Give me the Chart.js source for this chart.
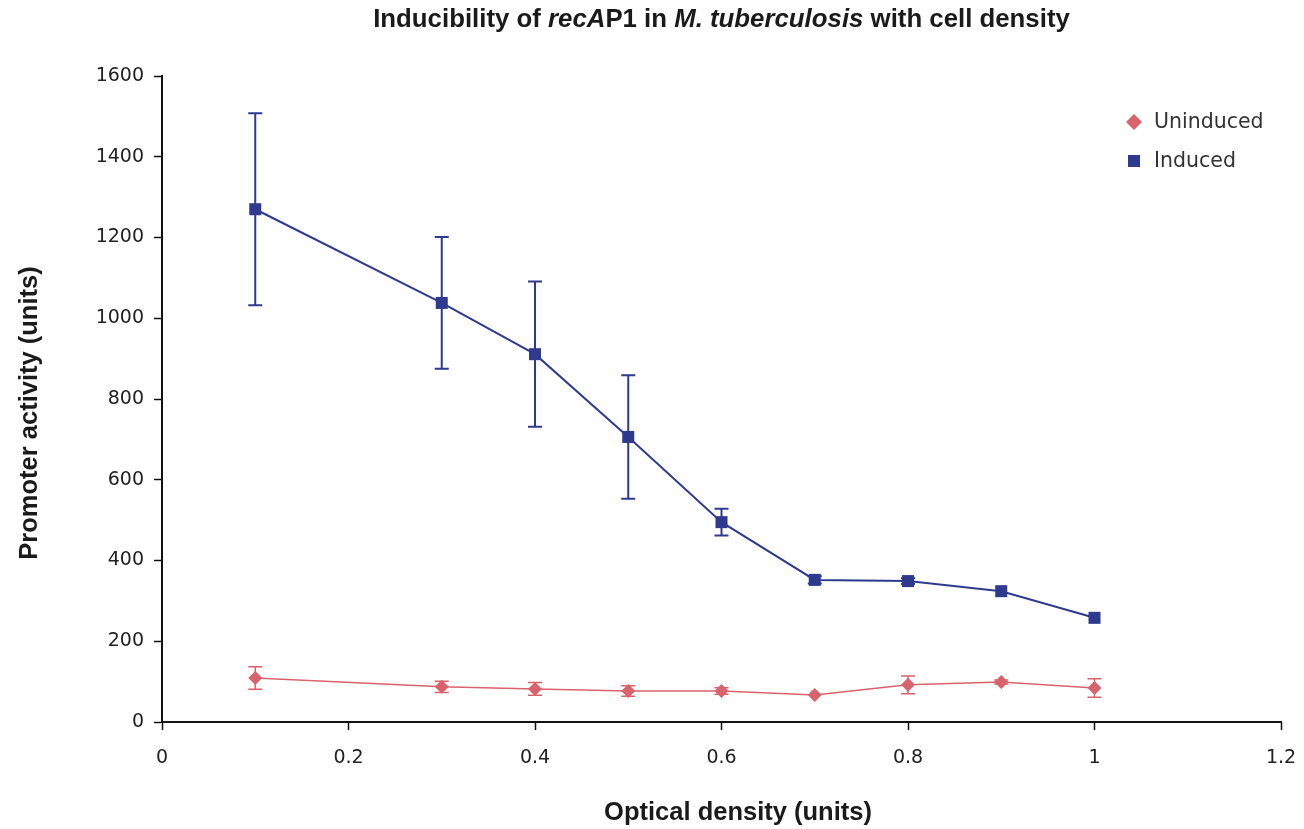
<!DOCTYPE html>
<html>
<head>
<meta charset="utf-8">
<script src="https://cdn.jsdelivr.net/npm/chart.js@4.4.0/dist/chart.umd.min.js"></script>
<style>
  html, body { margin: 0; padding: 0; background: #fff; }
</style>
</head>
<body>
<canvas id="c" width="1304" height="829"></canvas>
<script>
// data
const opticalDensity = [0.1, 0.3, 0.4, 0.5, 0.6, 0.7, 0.8, 0.9, 1.0];
const uninduced    = [109, 87, 82, 77, 77, 67, 92, 99, 84];
const uninducedErr = [28, 14, 16, 13, 8, 0, 22, 5, 23];
const induced      = [1270, 1038, 911, 706, 495, 352, 349, 324, 258];
const inducedErr   = [238, 163, 180, 153, 33, 9, 7, 0, 0];
const xTickLabels = ['0', '0.2', '0.4', '0.6', '0.8', '1', '1.2'];
const yTickLabels = ['0', '200', '400', '600', '800', '1000', '1200', '1400', '1600'];
const xAxisTitle = 'Optical density (units)';
const yAxisTitle = 'Promoter activity (units)';
const titleParts = [
  { text: 'Inducibility of ', italic: false },
  { text: 'recA', italic: true },
  { text: 'P1 in ', italic: false },
  { text: 'M. tuberculosis', italic: true },
  { text: ' with cell density', italic: false }
];

const RED = '#d8636c';
const BLUE = '#2e3a8e';
const FONT = '"DejaVu Sans", sans-serif';
const BOLD = '"Liberation Sans", Arial, sans-serif';

const points = ys => opticalDensity.map((x, i) => ({ x: x, y: ys[i] }));

// error bars drawn under the markers
const errorBars = {
  id: 'errorBars',
  beforeDatasetsDraw(chart) {
    const ctx = chart.ctx;
    const xs = chart.scales.x, ys = chart.scales.y;
    chart.data.datasets.forEach(ds => {
      ctx.save();
      ctx.strokeStyle = ds.borderColor;
      ctx.lineWidth = ds.errWidth;
      ds.data.forEach((p, i) => {
        const e = ds.errors[i];
        if (!e) return;
        const px = xs.getPixelForValue(p.x);
        const top = ys.getPixelForValue(p.y + e);
        const bot = ys.getPixelForValue(p.y - e);
        ctx.beginPath();
        ctx.moveTo(px, top); ctx.lineTo(px, bot);
        ctx.moveTo(px - 7, top); ctx.lineTo(px + 7, top);
        ctx.moveTo(px - 7, bot); ctx.lineTo(px + 7, bot);
        ctx.stroke();
      });
      ctx.restore();
    });
  }
};

// chart title (italic gene / species names) and axis titles
const titles = {
  id: 'titles',
  afterDraw(chart) {
    const ctx = chart.ctx;
    const area = chart.chartArea;
    ctx.save();
    ctx.fillStyle = '#1a1a1a';
    ctx.textBaseline = 'middle';
    const fontOf = p => (p.italic ? 'italic ' : '') + 'bold 25.8px ' + BOLD;
    let total = 0;
    titleParts.forEach(p => { ctx.font = fontOf(p); total += ctx.measureText(p.text).width; });
    let x = (area.left + area.right) / 2 - total / 2;
    titleParts.forEach(p => {
      ctx.font = fontOf(p);
      ctx.fillText(p.text, x, 20);
      x += ctx.measureText(p.text).width;
    });

    ctx.font = 'bold 25.5px ' + BOLD;
    ctx.textAlign = 'center';
    ctx.fillText(xAxisTitle, 738, 813);
    ctx.translate(30, 413);
    ctx.rotate(-Math.PI / 2);
    ctx.fillText(yAxisTitle, 0, 0);
    ctx.restore();
  }
};

// legend at top right of the plot
const sideLegend = {
  id: 'sideLegend',
  afterDraw(chart) {
    const ctx = chart.ctx;
    ctx.save();
    ctx.font = '20.5px ' + FONT;
    ctx.textBaseline = 'middle';
    chart.data.datasets.forEach((ds, i) => {
      const cx = 1134, cy = 122 + i * 39;
      ctx.fillStyle = ds.backgroundColor;
      ctx.beginPath();
      if (ds.pointStyle === 'rectRot') {
        ctx.moveTo(cx, cy - 8); ctx.lineTo(cx + 8, cy); ctx.lineTo(cx, cy + 8); ctx.lineTo(cx - 8, cy);
        ctx.closePath();
      } else {
        ctx.rect(cx - 6, cy - 6, 12, 12);
      }
      ctx.fill();
      ctx.fillStyle = '#333';
      ctx.fillText(ds.label, 1154, cy + 1);
    });
    ctx.restore();
  }
};

new Chart(document.getElementById('c'), {
  type: 'line',
  data: {
    datasets: [
      {
        label: 'Uninduced',
        data: points(uninduced),
        errors: uninducedErr,
        errWidth: 1.5,
        borderColor: RED,
        backgroundColor: RED,
        borderWidth: 1.5,
        pointStyle: 'rectRot',
        pointRadius: 7,
        pointBorderWidth: 0,
        tension: 0
      },
      {
        label: 'Induced',
        data: points(induced),
        errors: inducedErr,
        errWidth: 2,
        borderColor: BLUE,
        backgroundColor: BLUE,
        borderWidth: 2,
        pointStyle: 'rect',
        pointRadius: 8.5,
        pointBorderWidth: 0,
        tension: 0
      }
    ]
  },
  options: {
    responsive: false,
    animation: false,
    layout: { padding: { top: 76, right: 23, bottom: 0, left: 0 } },
    plugins: {
      legend: { display: false },
      title: { display: false },
      tooltip: { enabled: false }
    },
    scales: {
      x: {
        type: 'linear',
        min: 0,
        max: 1.2,
        afterFit: s => { s.height = 107; s.paddingRight = 0; s.paddingLeft = 0; },
        grid: { drawOnChartArea: false, tickLength: 8, tickColor: '#111', tickWidth: 1.5 },
        border: { color: '#111', width: 2 },
        ticks: {
          stepSize: 0.2,
          padding: 17,
          color: '#222',
          font: { family: FONT, size: 19 },
          callback: (v, i) => xTickLabels[i]
        }
      },
      y: {
        min: 0,
        max: 1600,
        afterFit: s => { s.width = 162; },
        grid: { drawOnChartArea: false, tickLength: 8, tickColor: '#111', tickWidth: 1.5 },
        border: { color: '#111', width: 2 },
        ticks: {
          stepSize: 200,
          padding: 10,
          color: '#222',
          font: { family: FONT, size: 19 },
          callback: (v, i) => yTickLabels[i]
        }
      }
    }
  },
  plugins: [errorBars, titles, sideLegend]
});
</script>
</body>
</html>
